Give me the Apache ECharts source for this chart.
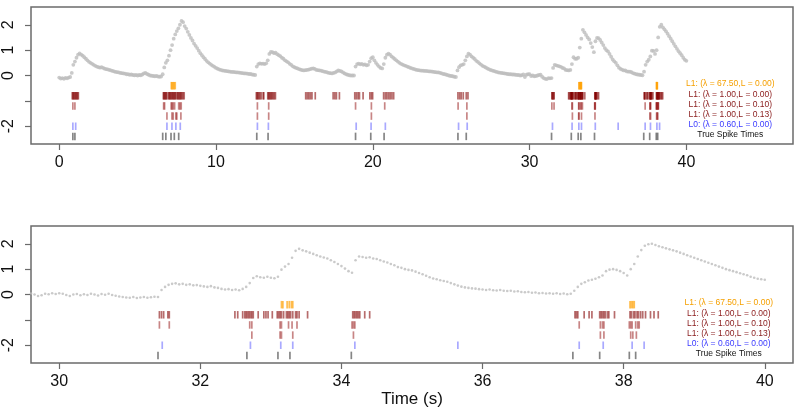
<!DOCTYPE html>
<html><head><meta charset="utf-8">
<script src="https://cdn.jsdelivr.net/npm/echarts@6/dist/echarts.min.js"></script>
<style>html,body{margin:0;padding:0;background:#fff}#c{width:800px;height:420px}</style>
</head><body><div id="c"></div>
<script>
// ---------- DATA ----------
// calcium trace, 0.0 .. 29.5 s every 0.1 s
const coarseStart = 0.0, coarseStep = 0.1;
const traceCoarse = [
-0.08,-0.12,-0.10,-0.13,-0.09,-0.11,-0.08,-0.06,0.10,0.42,
0.55,0.70,0.82,0.87,0.82,0.78,0.72,0.66,0.60,0.54,
0.50,0.46,0.42,0.38,0.35,0.33,0.31,0.33,0.30,0.27,
0.25,0.24,0.22,0.20,0.18,0.16,0.14,0.13,0.12,0.10,
0.09,0.08,0.07,0.05,0.05,0.03,0.04,0.02,0.01,0.02,
0.00,0.02,0.01,0.04,0.08,0.10,0.06,0.03,0.00,-0.01,
-0.02,-0.03,-0.02,-0.04,-0.05,-0.04,0.05,0.32,0.50,0.60,
0.78,1.00,1.20,1.45,1.62,1.75,1.86,2.00,2.15,2.10,
1.95,1.85,1.72,1.60,1.48,1.38,1.26,1.17,1.08,0.98,
0.88,0.80,0.72,0.65,0.58,0.52,0.47,0.42,0.38,0.34,
0.30,0.27,0.24,0.22,0.20,0.19,0.18,0.17,0.16,0.15,
0.14,0.14,0.13,0.12,0.12,0.11,0.10,0.09,0.08,0.08,
0.07,0.06,0.06,0.04,0.03,0.02,0.35,0.45,0.48,0.46,
0.47,0.45,0.48,0.60,0.85,0.93,0.92,0.88,0.90,0.84,
0.80,0.76,0.70,0.66,0.60,0.56,0.52,0.46,0.42,0.36,
0.33,0.30,0.28,0.25,0.23,0.21,0.20,0.21,0.22,0.23,
0.25,0.27,0.28,0.26,0.22,0.21,0.20,0.19,0.17,0.15,
0.14,0.12,0.10,0.09,0.08,0.10,0.12,0.16,0.20,0.18,
0.16,0.12,0.08,0.05,0.03,0.01,0.00,0.00,0.00,0.35,
0.45,0.47,0.44,0.46,0.42,0.44,0.40,0.42,0.55,0.68,
0.72,0.60,0.50,0.42,0.35,0.30,0.28,0.45,0.70,0.82,
0.86,0.82,0.75,0.70,0.65,0.60,0.55,0.50,0.46,0.43,
0.40,0.38,0.35,0.33,0.30,0.28,0.26,0.24,0.22,0.21,
0.20,0.19,0.19,0.18,0.18,0.17,0.16,0.16,0.15,0.14,
0.13,0.12,0.12,0.10,0.08,0.06,0.05,0.03,0.01,-0.01,
-0.02,-0.03,-0.05,-0.06,0.20,0.33,0.40,0.42,0.45,0.60,
0.75,0.86,0.82,0.75,0.70,0.65,0.58,0.54,0.48,0.43,
0.38,0.35,0.32,0.28,0.25,0.22,0.20,0.18,0.16,0.14,
0.12,0.11,0.10,0.09,0.08,0.07,0.06,0.05,0.05,0.04,
0.04,0.03,0.02,0.02,0.00,0.01
];
// calcium trace, 29.6 .. 40.0 s every 0.05 s
const fineStart = 29.6, fineStep = 0.05;
const traceFine = [
0.04,0.00,-0.06,-0.03,0.03,0.01,0.05,0.02,
0.05,0.03,-0.02,-0.06,0.00,0.02,-0.03,0.01,-0.02,0.03,0.00,-0.04,0.02,-0.01,0.03,-0.02,-0.05,-0.08,-0.10,-0.12,
-0.13,-0.10,-0.14,-0.12,-0.10,-0.13,-0.11,-0.09,-0.10,0.18,0.30,0.38,0.42,0.44,0.40,0.42,0.38,0.40,0.36,0.37,
0.34,0.32,0.30,0.33,0.28,0.26,0.22,0.20,0.21,0.18,0.20,0.17,0.22,0.30,0.45,0.65,0.72,0.68,0.66,0.70,
0.66,0.64,0.70,0.98,1.10,1.20,1.45,1.72,1.80,1.74,1.70,1.65,1.60,1.55,1.50,1.46,1.42,1.35,1.28,1.20,
1.12,1.02,0.92,0.86,1.35,1.50,1.48,1.45,1.47,1.42,1.40,1.35,1.30,1.26,1.20,1.15,1.08,1.05,1.00,0.97,
0.95,0.90,0.85,0.80,0.74,0.68,0.63,0.60,0.56,0.53,0.50,0.45,0.40,0.35,0.31,0.28,0.26,0.24,0.23,0.21,
0.20,0.18,0.20,0.17,0.16,0.18,0.15,0.14,0.15,0.12,0.13,0.10,0.09,0.10,0.07,0.08,0.05,0.06,0.04,0.05,
0.03,0.05,0.02,0.04,0.01,0.03,0.15,0.30,0.42,0.48,0.55,0.58,0.62,0.68,0.75,0.92,0.98,1.00,0.97,0.92,
0.85,0.75,1.00,1.20,1.50,1.75,1.92,1.98,2.00,1.95,1.90,1.86,1.82,1.78,1.74,1.70,1.65,1.60,1.55,1.50,
1.45,1.40,1.35,1.30,1.25,1.20,1.15,1.10,1.05,1.00,0.96,0.92,0.88,0.84,0.80,0.76,0.70,0.66,0.62,0.60,
0.58
];
// spike times (s)
const spikesL1Big = [7.15,7.20,7.27,7.33,7.40,33.15,33.17,33.23,33.26,33.29,33.31,38.09,38.11,38.13,38.15];
const spikesL1L000 = [
0.83,0.88,0.92,0.97,1.02,1.07,1.12,1.17,1.22,
6.64,6.68,6.72,6.77,6.81,6.86,6.96,7.01,7.06,7.10,7.15,7.20,7.25,7.30,7.34,7.39,7.44,7.52,7.57,7.62,7.67,7.72,7.77,7.83,7.90,7.97,
12.57,12.62,12.67,12.73,12.80,12.88,13.00,13.05,13.30,13.35,13.40,13.46,13.52,13.58,13.65,13.72,13.79,
15.72,15.82,15.92,16.02,16.12,16.33,17.47,17.58,17.68,17.87,
18.85,18.95,19.06,19.15,19.38,19.81,19.91,19.99,
20.69,20.80,20.90,21.01,21.11,21.22,21.33,
25.43,25.54,25.64,25.77,25.96,26.07,
31.42,31.45,31.48,31.54,31.56,
32.49,32.53,32.60,32.63,32.65,32.67,32.69,32.71,32.73,32.75,32.82,32.90,32.93,32.96,33.02,
33.09,33.11,33.13,33.15,33.18,33.22,33.24,33.26,33.28,33.31,33.35,33.37,33.40,33.52,
34.16,34.18,34.20,34.22,34.24,34.26,34.33,34.40,
37.31,37.33,37.35,37.44,37.51,37.55,37.66,37.68,37.70,37.72,37.74,37.77,37.79,37.87,
38.09,38.11,38.14,38.16,38.19,38.21,38.24,38.27,38.31,38.38,38.43,38.49
];
const spikesL1L010 = [
0.87,1.00,6.66,6.72,7.14,7.20,7.27,7.36,7.62,7.70,7.78,
12.64,13.36,18.90,19.91,20.76,25.44,26.00,
31.42,31.56,32.70,32.73,33.13,33.15,33.25,33.30,33.37,34.15,34.17,34.19,
37.37,37.67,37.70,37.72,38.08,38.10,38.12,38.17,38.20,38.22
];
const spikesL1L013 = [
6.87,7.19,7.27,7.44,7.50,7.76,12.64,13.36,19.91,26.00,
32.73,33.13,33.15,33.31,34.17,37.67,37.72,38.10,38.13,38.18
];
const spikesL0 = [
0.87,1.05,6.87,7.19,7.44,7.72,12.64,13.34,18.94,19.89,20.80,25.47,26.02,
31.46,32.71,33.14,33.31,34.19,35.65,37.37,37.71,38.12,38.29
];
const spikesTrue = [
0.87,1.00,6.60,6.80,7.13,7.34,7.62,12.60,13.32,18.90,19.87,20.72,25.43,25.96,
31.40,32.66,33.10,33.27,34.14,37.28,37.66,38.08,38.17
];
const rowLevels = [-0.4,-0.8,-1.2,-1.6,-2.0,-2.4];
const rowLabels = ['L1: (λ = 67.50,L = 0.00)','L1: (λ = 1.00,L = 0.00)','L1: (λ = 1.00,L = 0.10)','L1: (λ = 1.00,L = 0.13)','L0: (λ = 0.60,L = 0.00)','True Spike Times'];
const topXTicks = [0,10,20,30,40];
const bottomXTicks = [30,32,34,36,38,40];
const yTicks = [-2,-1,0,1,2];
const yLabelTicks = [-2,0,1,2];
const xTitle = 'Time (s)';
const legendXTop = 42.8, legendXBottom = 39.49;

// ---------- STYLE ----------
const markColors = ['rgba(255,160,0,0.85)','rgba(130,0,0,0.72)','rgba(139,0,0,0.6)','rgba(139,0,0,0.6)','rgba(40,40,255,0.5)','rgba(0,0,0,0.6)'];
const textColors = ['#F5A000','#8B1A1A','#8B2020','#8B2020','#3A3AFF','#111111'];
const FONT = '"Liberation Sans", Arial, Helvetica, sans-serif';
const boxColor = '#6b6b6b';

const allRows = [spikesL1Big,spikesL1L000,spikesL1L010,spikesL1L013,spikesL0,spikesTrue];

const topTrace = [];
traceCoarse.forEach((v,i)=>{ const t = +(coarseStart+i*coarseStep).toFixed(2); if (t < fineStart) topTrace.push([t,v]); });
traceFine.forEach((v,i)=>{ if (i%2===0) topTrace.push([+(fineStart+i*fineStep).toFixed(2), v]); });
const bottomTrace = traceFine.map((v,i)=>[+(fineStart+i*fineStep).toFixed(2), v]);

function xAxisDef(grid,min,max,ticks,extra){
  return Object.assign({
    type:'value', gridIndex:grid, min:min, max:max,
    axisLine:{show:false, onZero:false}, splitLine:{show:false},
    axisTick:{show:true, customValues:ticks, length:6, inside:false, lineStyle:{color:boxColor,width:1.2}},
    axisLabel:{show:true, customValues:ticks, fontSize:16, color:'#111', fontFamily:FONT, margin:11, formatter:v=>String(v)}
  }, extra||{});
}
function yAxisDef(grid){
  return {
    type:'value', gridIndex:grid, min:-2.7, max:2.7,
    axisLine:{show:false, onZero:false}, splitLine:{show:false},
    axisTick:{show:true, customValues:yTicks, length:6, lineStyle:{color:boxColor,width:1.2}},
    axisLabel:{show:true, customValues:yLabelTicks, rotate:90, fontSize:16, color:'#111', fontFamily:FONT, margin:14, formatter:v=>String(v)}
  };
}

const series = [];
[[0,topTrace,3.8],[1,bottomTrace,2.6]].forEach(([g,data,sz])=>{
  series.push({type:'scatter', xAxisIndex:g, yAxisIndex:g, data:data, symbol:'circle', symbolSize:sz,
    itemStyle:{color:'#BDBDBD'}, silent:true, animation:false, clip:true});
  allRows.forEach((arr,r)=>{
    series.push({type:'scatter', xAxisIndex:g, yAxisIndex:g, data:arr.map(t=>[t,rowLevels[r]]),
      symbol:'rect', symbolSize:[1.7,7.5], itemStyle:{color:markColors[r]}, silent:true, animation:false, clip:true});
  });
});

const chart = echarts.init(document.getElementById('c'), null, {renderer:'canvas'});
chart.setOption({
  animation:false,
  backgroundColor:'#fff',
  grid:[
    {left:31, top:7, width:762, height:137, show:true, borderColor:boxColor, borderWidth:1.5, backgroundColor:'transparent'},
    {left:31, top:226, width:762, height:137, show:true, borderColor:boxColor, borderWidth:1.5, backgroundColor:'transparent'}
  ],
  xAxis:[
    xAxisDef(0,-1.8,46.8,topXTicks),
    xAxisDef(1,29.6,40.4,bottomXTicks,{name:xTitle, nameLocation:'middle', nameGap:28, nameTextStyle:{fontSize:17, color:'#111', fontFamily:FONT}})
  ],
  yAxis:[yAxisDef(0), yAxisDef(1)],
  series:series
});

const graphics = [];
[[0,legendXTop],[1,legendXBottom]].forEach(([g,lx])=>{
  rowLevels.forEach((lv,r)=>{
    const p = chart.convertToPixel({gridIndex:g},[lx,lv]);
    graphics.push({type:'text', x:p[0], y:p[1]-1.5, silent:true,
      style:{text:rowLabels[r], fill:textColors[r], font:'8.5px '+FONT, textAlign:'center', textVerticalAlign:'middle'}});
  });
});
chart.setOption({graphic:graphics});
</script></body></html>
